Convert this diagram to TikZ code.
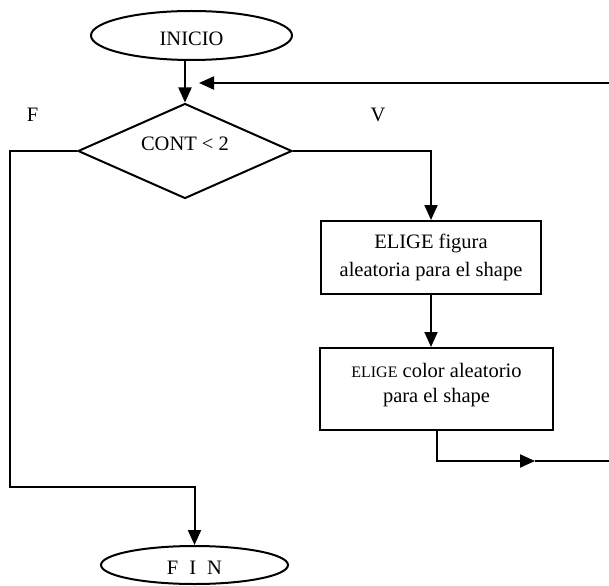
\documentclass[tikz,border=0pt]{standalone}
\usepackage{fontspec}
\setmainfont{Liberation Serif}
\usetikzlibrary{shapes.geometric,arrows.meta}
\begin{document}
\begin{tikzpicture}[x=1pt,y=-1pt,
  line width=2pt,
  txt/.style={font=\fontsize{20.5}{28}\selectfont},
  terminal/.style={ellipse,draw,inner sep=0pt,txt},
  decision/.style={diamond,draw,inner sep=0pt,shape aspect=2.25,txt},
  process/.style={rectangle,draw,inner sep=0pt,align=center,txt},
  flow/.style={-{Triangle[length=15pt,width=13pt]}},
  lbl/.style={txt}]
  % page
  \fill[white] (0,0) rectangle (609,585);
  \useasboundingbox (0,0) rectangle (609,585);

  % shapes
  \node[terminal,minimum width=201pt,minimum height=49pt,text height=20pt] (inicio) at (191.5,35.5) {INICIO};
  \node[decision,minimum width=214pt,minimum height=95pt,text depth=15pt] (cond) at (185,151) {CONT < 2};
  \node[process,minimum width=220pt,minimum height=73pt] (box1) at (431,257.5)
    {ELIGE figura\\aleatoria para el shape};
  \node[process,minimum width=233pt,minimum height=82pt,
        font=\fontsize{20.5}{25}\selectfont] (box2) at (436.5,389)
    {{\fontsize{16}{25}\selectfont ELIGE} color aleatorio\\para el shape\vphantom{g}\\[-12pt]};
  \node[terminal,minimum width=187pt,minimum height=38pt,text height=18pt] (fin) at (194.5,565)
    {F\hspace{11pt}I\hspace{11pt}N};

  % branch labels
  \node[lbl] (lblF) at (32.5,114.5) {F};
  \node[lbl] (lblV) at (378,115) {V};

  % routing points
  \coordinate (loopR) at (609,83);
  \coordinate (loopTip) at (199,83);
  \coordinate (lt) at (10,151);
  \coordinate (lb) at (10,487);
  \coordinate (outMid) at (535,461);
  \coordinate (outR) at (609,461);

  % connectors
  \draw[flow] (inicio.south -| cond.north) -- (cond.north);
  \draw[flow] (loopR) -- (loopTip);
  \draw[flow] (cond.east) -| (box1.north);
  \draw[flow] (box1.south) -- (box1.south |- box2.north);
  \draw[flow] (box2.south) |- (outMid);
  \draw (outMid) -- (outR);
  \draw[flow] (cond.west) -- (lt) -- (lb) -| (fin.north);
\end{tikzpicture}
\end{document}
